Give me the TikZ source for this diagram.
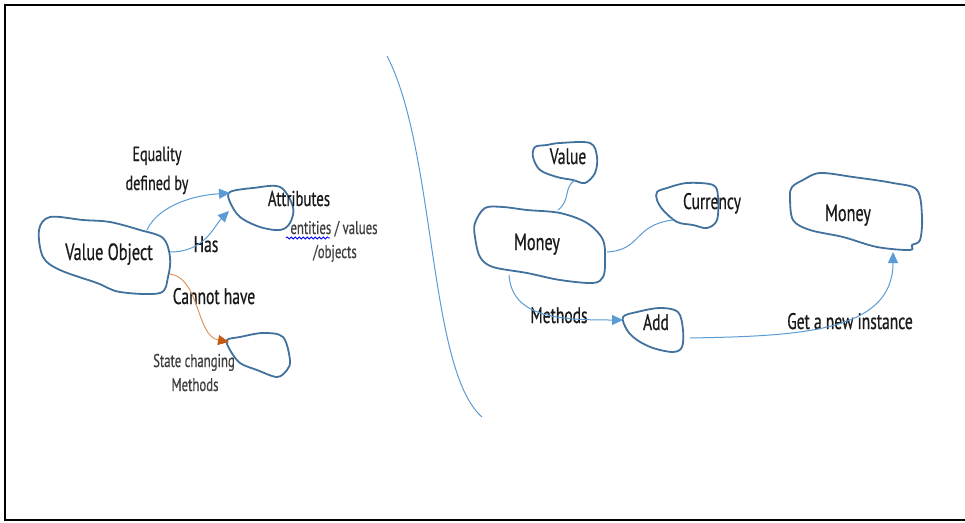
\documentclass[tikz,border=0pt]{standalone}
\usepackage{fontspec}
\setmainfont{PT Sans}[FakeStretch=0.69,FakeBold=0.6]
\usetikzlibrary{decorations.pathmorphing,arrows.meta}
\definecolor{blobc}{HTML}{41719C}
\definecolor{linkc}{HTML}{5B9BD5}
\definecolor{orangel}{HTML}{E0945E}
\definecolor{oranged}{HTML}{C55A11}
\definecolor{txt}{HTML}{1A1A1A}
\definecolor{txtg}{HTML}{404040}
\begin{document}
\begin{tikzpicture}[x=1pt,y=-1pt,
  blob/.style={draw=blobc,line width=1.8pt,line join=round},
  lbl/.style={anchor=base,inner sep=0pt,text=txt,font=\fontsize{22.5}{24}\selectfont},
  small/.style={anchor=base,inner sep=0pt,text=txtg,font=\fontsize{18.5}{20}\selectfont},
  link/.style={draw=linkc,line width=1pt},
  tip/.style={-{Triangle[length=11pt,width=10pt]}},
  otip/.style={draw=orangel,line width=1pt,-{Triangle[length=11pt,width=10pt,color=oranged]}}
]
\useasboundingbox (0,0) rectangle (965,522);
% frame
\draw[line width=2pt,line cap=rect] (965,5) -- (5,5) -- (5,520) -- (965,520);

% divider
\coordinate (dtop) at (387,56);
\coordinate (dbot) at (482,417);
\draw[link] (dtop) .. controls (436,150) and (428,370) .. (dbot);

% ---------- left side blobs ----------
\draw[blob] plot[smooth cycle,tension=0.55] coordinates {(39,230) (50,217) (83,220) (110,222) (140,230) (163,238) (170,257) (168,277) (160,293) (120,292) (97,283) (60,270) (43,257)};
\draw[blob] plot[smooth cycle,tension=0.55] coordinates {(230,192) (253,188) (280,187) (293,207) (290,223) (280,230) (260,227) (240,217) (230,202)};
\draw[blob] plot[smooth cycle,tension=0.55] coordinates {(227,340) (240,337) (263,333) (283,337) (290,360) (287,370) (277,377) (257,370) (240,363) (230,350)};

% left texts
\node[lbl,font=\fontsize{20.5}{22}\selectfont] (eq1) at (157,161) {Equality};
\node[lbl,font=\fontsize{20.5}{22}\selectfont] (eq2) at (157,190) {defined by};
\node[lbl,font=\fontsize{21.5}{22}\selectfont] (attr) at (299,206) {Attributes};
\node[small,font=\fontsize{18.5}{20}\selectfont] (ent1) at (334,234) {entities / values};
\node[small,font=\fontsize{18.5}{20}\selectfont] (ent2) at (335,258) {/objects};
\node[lbl] (has) at (206,252) {Has};
\node[lbl,font=\fontsize{23.5}{24}\selectfont] (vo) at (109,260) {Value Object};
\node[lbl] (cannot) at (214,304) {Cannot have};
\node[small] (sc1) at (194,367) {State changing};
\node[small] (sc2) at (195,391) {Methods};
% spell-check squiggle
\coordinate (sq1) at (286,238);
\coordinate (sq2) at (330,238);
\draw[blue,line width=0.8pt,decorate,decoration={snake,amplitude=1.1pt,segment length=4pt}] (sq1) -- (sq2);

% left connectors
\coordinate (voT) at (147,230);
\coordinate (voR) at (170,252);
\coordinate (voRB) at (170,274);
\coordinate (atA) at (230,193);
\coordinate (atB) at (229,211);
\coordinate (scA) at (229,342);
\draw[link,tip] (voT) .. controls (156,210) and (185,196) .. (atA);
\draw[link,tip] (voR) .. controls (205,252) and (214,226) .. (atB);
\draw[otip] (voRB) .. controls (200,278) and (196,336) .. (scA);

% ---------- right side blobs ----------
\draw[blob] plot[smooth cycle,tension=0.55] coordinates {(535,147) (547,145) (560,143) (590,143) (597,157) (595,173) (585,183) (573,180) (557,177) (540,170) (533,157)};
\draw[blob] plot[smooth cycle,tension=0.55] coordinates {(475,223) (485,208) (503,207) (527,210) (560,213) (587,223) (603,240) (605,263) (603,277) (593,283) (560,280) (527,273) (493,267) (480,257) (475,237)};
\draw[blob] plot[smooth cycle,tension=0.55] coordinates {(657,192) (667,188) (687,183) (713,185) (718,197) (717,220) (707,228) (693,225) (677,222) (663,210) (657,200)};
\draw[blob] plot[smooth cycle,tension=0.55] coordinates {(792,187) (803,180) (820,173) (853,177) (893,183) (917,190) (922,217) (920,240) (912,245) (910,250) (877,247) (843,237) (810,230) (793,220) (790,197)};
\draw[blob] plot[smooth cycle,tension=0.55] coordinates {(623,317) (637,312) (660,308) (678,312) (683,330) (682,347) (673,352) (653,348) (637,340) (627,330)};

% right texts
\node[lbl] (val) at (568,164) {Value};
\node[lbl] (cur) at (712,209) {Currency};
\node[lbl,font=\fontsize{23.5}{24}\selectfont] (m1) at (537,250) {Money};
\node[lbl,font=\fontsize{23.5}{24}\selectfont] (m2) at (848,221) {Money};
\node[lbl] (meth) at (559,323) {Methods};
\node[lbl] (add) at (656,330) {Add};
\node[lbl] (gni) at (850,329) {Get a new instance};

% right connectors
\coordinate (vB) at (575,180);
\coordinate (mT) at (558,210);
\coordinate (mR) at (607,252);
\coordinate (cL) at (673,220);
\coordinate (mB) at (509,275);
\coordinate (aL) at (623,320);
\coordinate (aR) at (690,338);
\coordinate (m2B) at (893,252);
\draw[link] (vB) .. controls (563,188) and (571,200) .. (mT);
\draw[link] (mR) .. controls (642,250) and (633,225) .. (cL);
\draw[link,tip] (mB) .. controls (512,318) and (560,320) .. (aL);
\draw[link,tip] (aR) .. controls (800,336) and (893,332) .. (m2B);
\end{tikzpicture}
\end{document}
